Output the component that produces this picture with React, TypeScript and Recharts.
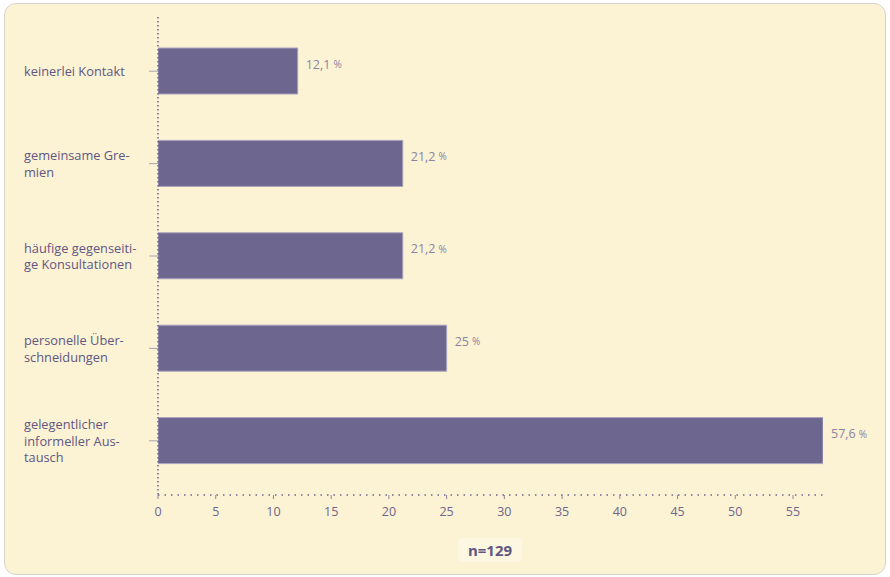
import { BarChart, Bar, XAxis, YAxis, LabelList } from "recharts"

const categories = [
  "keinerlei Kontakt",
  "gemeinsame Gre-\nmien",
  "häufige gegenseiti-\nge Konsultationen",
  "personelle Über-\nschneidungen",
  "gelegentlicher\ninformeller Aus-\ntausch",
]
const shares = [12.1, 21.2, 21.2, 25, 57.6]
const xTicks = [0, 5, 10, 15, 20, 25, 30, 35, 40, 45, 50, 55]

const data = categories.map((name, i) => ({ name, value: shares[i] }))

const font = "'Open Sans', 'Noto Sans', sans-serif"
const ink = "#5f5782"

function CategoryTick({ y, payload }: any) {
  const lines = String(payload.value).split("\n")
  const lh = 16.5
  const start = y - ((lines.length - 1) * lh) / 2
  return (
    <text x={24} y={start} fill={ink} fontSize={12.8} fontFamily={font} dominantBaseline="central">
      {lines.map((l, i) => (
        <tspan key={i} x={24} y={start + i * lh}>{l}</tspan>
      ))}
    </text>
  )
}

function ValueLabel({ x, y, width, value }: any) {
  return (
    <text x={x + width + 8} y={y + 16} fill="#8a84a2" fontSize={12.5} fontFamily={font} dominantBaseline="central">
      {String(value).replace(".", ",")}
      <tspan fontSize={10} dx={3}>%</tspan>
    </text>
  )
}

export default function App() {
  return (
    <div style={{ position: "fixed", left: 0, top: 0, width: 890, height: 577 }}>
      <div
        style={{
          position: "absolute", left: 4, top: 3, width: 880, height: 570,
          background: "#fcf2d4", border: "1px solid #d6d3cf", borderRadius: 12,
        }}
      />
      <div style={{ position: "absolute", left: 0, top: 0 }}>
        <BarChart
          width={890}
          height={577}
          data={data}
          layout="vertical"
          margin={{ top: 17, right: 67, bottom: 52, left: 0 }}
        >
          <XAxis
            type="number"
            domain={[0, 57.6]}
            ticks={xTicks}
            allowDataOverflow
            height={30}
            axisLine={{ stroke: "#6e668c", strokeWidth: 1.5, strokeDasharray: "1.5 5" }}
            tickLine={{ stroke: "#8a84a2" }}
            tickSize={4}
            tick={{ fill: "#6e668c", fontSize: 12.5, fontFamily: font, dy: 6 }}
          />
          <YAxis
            type="category"
            dataKey="name"
            width={158}
            padding={{ top: 8, bottom: 8 }}
            axisLine={{ stroke: "#6e668c", strokeWidth: 1.5, strokeDasharray: "1.5 2.5" }}
            tickLine={{ stroke: "#a8a4b4" }}
            tickSize={9}
            tick={<CategoryTick />}
            interval={0}
          />
          <Bar dataKey="value" fill="#6d668e" stroke="#aaa4c0" strokeWidth={1} barSize={46} isAnimationActive={false}>
            <LabelList dataKey="value" content={<ValueLabel />} />
          </Bar>
        </BarChart>
      </div>
      <div
        style={{
          position: "absolute", left: 458, top: 538, width: 64, height: 24,
          background: "#fdf6e0", borderRadius: 3, color: ink, fontFamily: font,
          fontWeight: 700, fontSize: 15, lineHeight: "24px", textAlign: "center",
        }}
      >
        n=129
      </div>
    </div>
  )
}
